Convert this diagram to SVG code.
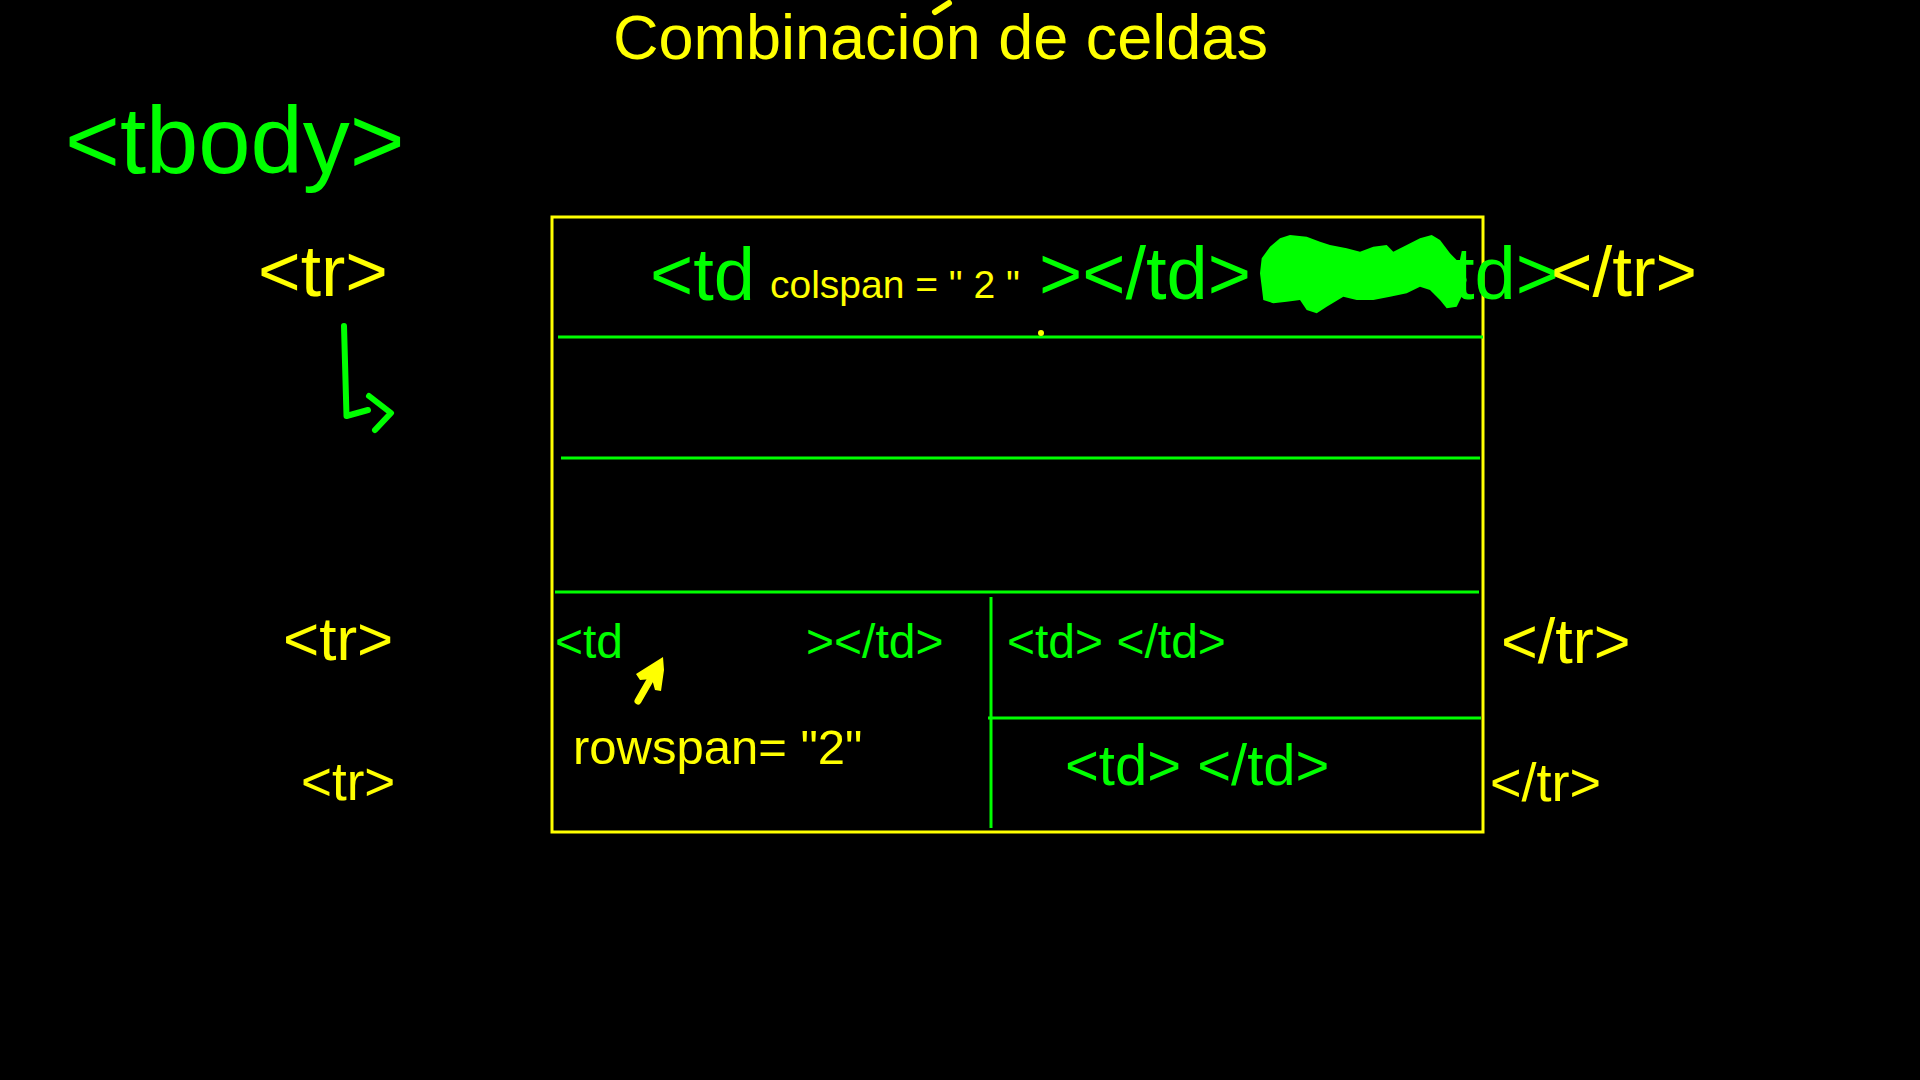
<svg xmlns="http://www.w3.org/2000/svg" width="1920" height="1080" viewBox="0 0 1920 1080">
<style>
text{font-family:"Liberation Sans",Arial,sans-serif;}
.g{fill:#00ff00;}
.y{fill:#ffff00;}
.gl{stroke:#00ff00;stroke-width:3;fill:none;}
.ys{stroke:#ffff00;stroke-width:3;fill:none;}
.pen{stroke-linecap:round;stroke-linejoin:round;fill:none;}
</style>
<rect x="0" y="0" width="1920" height="1080" fill="#000"/>
<g id="title">
<text class="y" x="613" y="59" font-size="63">Combinacion de celdas</text>
<path class="pen" d="M935 12 L949 3" stroke="#ffff00" stroke-width="6"/>
</g>
<g id="tbody"><text class="g" x="65" y="173" font-size="94">&lt;tbody&gt;</text></g>
<g id="tr1"><text class="y" x="258" y="296" font-size="73">&lt;tr&gt;</text></g>
<g id="tr2"><text class="y" x="283" y="660" font-size="62">&lt;tr&gt;</text></g>
<g id="tr3"><text class="y" x="301" y="800" font-size="53">&lt;tr&gt;</text></g>
<g id="table">
<rect class="ys" x="552" y="217" width="931" height="615"/>
</g>
<g id="connectors">
<line class="gl" x1="558" y1="337" x2="1483" y2="337"/>
<line class="gl" x1="561" y1="458" x2="1480" y2="458"/>
<line class="gl" x1="555" y1="592" x2="1479" y2="592"/>
<line class="gl" x1="991" y1="597" x2="991" y2="828"/>
<line class="gl" x1="988" y1="718" x2="1481" y2="718"/>
<path class="pen" d="M344 326 L346.5 416 L368 410 M369 396 L391 413 L375 430" stroke="#00ff00" stroke-width="6"/>
<path class="pen" d="M638 701 L657 668" stroke="#ffff00" stroke-width="7"/>
<polygon fill="#ffff00" points="636,674 663,657 664,670 661,691 655,690 652,679 640,680"/>
<circle cx="1041" cy="333" r="3" fill="#ffff00"/>
</g>
<g id="row1">
<text class="g" x="650" y="300" font-size="74">&lt;td</text>
<text class="y" x="770" y="298" font-size="39">colspan = " 2 "</text>
<text class="g" x="1039" y="299" font-size="74">&gt;&lt;/td&gt;</text>
<path fill="#00ff00" d="M1261.7 258.3 L1270 246.7 L1280 238.3 L1290 235 L1306.7 236.7 L1320 241.7 L1330 245 L1346.7 248.3 L1360 251.7 L1373.3 246.7 L1386.7 245 L1393.3 251.7 L1406.7 245 L1420 238.3 L1431.7 235 L1440 240 L1450 253.3 L1463.3 266.7 L1466.7 280 L1463.3 293.3 L1456.7 306.7 L1446.7 308.3 L1440 300 L1430 290 L1420 286.7 L1406.7 293.3 L1390 296.7 L1373.3 300 L1356.7 300 L1343.3 296.7 L1326.7 306.7 L1316.7 313.3 L1306.7 310 L1300 300 L1286.7 301.7 L1273.3 303.3 L1263.3 300 L1261.7 286.7 L1260 273.3 Z"/>
<text class="g" x="1454" y="299" font-size="74">td&gt;</text>
<text class="y" x="1551" y="296" font-size="71">&lt;/tr&gt;</text>
</g>
<g id="row2">
<text class="g" x="555" y="658" font-size="48">&lt;td</text>
<text class="g" x="806" y="658" font-size="48">&gt;&lt;/td&gt;</text>
<text class="g" x="1007" y="658" font-size="48">&lt;td&gt; &lt;/td&gt;</text>
<text class="y" x="573" y="764" font-size="49">rowspan= "2"</text>
<text class="y" x="1501" y="663" font-size="63">&lt;/tr&gt;</text>
</g>
<g id="row3">
<text class="g" x="1065" y="785" font-size="58">&lt;td&gt; &lt;/td&gt;</text>
<text class="y" x="1490" y="801" font-size="54">&lt;/tr&gt;</text>
</g>
</svg>
